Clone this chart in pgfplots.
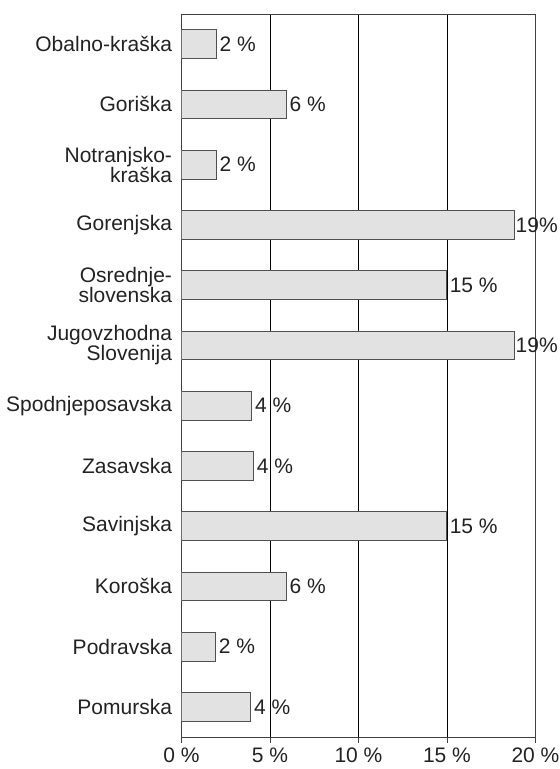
\documentclass[border=0pt]{standalone}
\usepackage{pgfplots}
\pgfplotsset{compat=1.18}
\usepackage{pgfplotstable}
\usepackage{fontspec}
\setmainfont{Liberation Sans}
\definecolor{barfill}{HTML}{E2E2E2}
\definecolor{bardraw}{HTML}{505050}
\definecolor{axcol}{HTML}{404040}
\definecolor{txt}{HTML}{222222}
\pgfplotstableread{
y x lab
11 1.95 2
10 5.9 6
9 1.95 2
7 14.95 15
5 3.95 4
4 4.05 4
3 14.95 15
2 5.9 6
1 1.9 2
0 3.9 4
}\data
\pgfplotstableread{
y x lab
8 18.8 19
6 18.8 19
}\datatop
\begin{document}
\begin{tikzpicture}
\begin{axis}[
  scale only axis,
  width=354pt, height=723pt,
  xmin=0, xmax=20, ymin=-0.5, ymax=11.5,
  axis line style={axcol, line width=0.8pt},
  xtick={0,5,10,15,20},
  xticklabels={0~\%,5~\%,10~\%,15~\%,20~\%},
  xmajorgrids, grid style={black, line width=0.6pt},
  x tick style={axcol, line width=0.8pt},
  tick align=outside, major tick length=6pt,
  xtick pos=bottom,
  ytick={0,...,11},
  yticklabels={Pomurska,Podravska,Koroška,Savinjska,Zasavska,Spodnjeposavska,{Jugovzhodna\\Slovenija},{Osrednje-\\slovenska},Gorenjska,{Notranjsko-\\kraška},Goriška,Obalno-kraška},
  y tick style={draw=none},
  ytick pos=left,
  extra y ticks={-0.5,0.5,...,11.5},
  extra y tick labels={},
  extra y tick style={grid=none, tick style={draw=axcol, line width=0.8pt}, major tick length=8pt, tick align=outside},
  yticklabel style={align=right, font=\fontsize{21}{20}\selectfont},
  xticklabel style={font=\fontsize{21}{20}\selectfont, yshift=-1.5pt},
  tick label style={text=txt},
]
\addplot[xbar, bar shift=0pt, fill=barfill, draw=bardraw, line width=0.8pt, bar width=0.48,
  nodes near coords={\pgfplotspointmeta~\%}, point meta=explicit symbolic,
  every node near coord/.append style={font=\fontsize{21}{20}\selectfont, text=txt, anchor=west, inner sep=3.3pt}]
  table[x=x,y=y,meta=lab]{\data};
\addplot[xbar, bar shift=0pt, fill=barfill, draw=bardraw, line width=0.8pt, bar width=0.48,
  nodes near coords={\pgfplotspointmeta\%}, point meta=explicit symbolic,
  every node near coord/.append style={font=\fontsize{21}{20}\selectfont, text=txt, anchor=west, inner sep=1pt}]
  table[x=x,y=y,meta=lab]{\datatop};
\end{axis}
\pgfresetboundingbox
\path ([shift={(-181.5pt,-32pt)}]current axis.south west) rectangle ([shift={(24.5pt,14pt)}]current axis.north east);
\end{tikzpicture}
\end{document}
